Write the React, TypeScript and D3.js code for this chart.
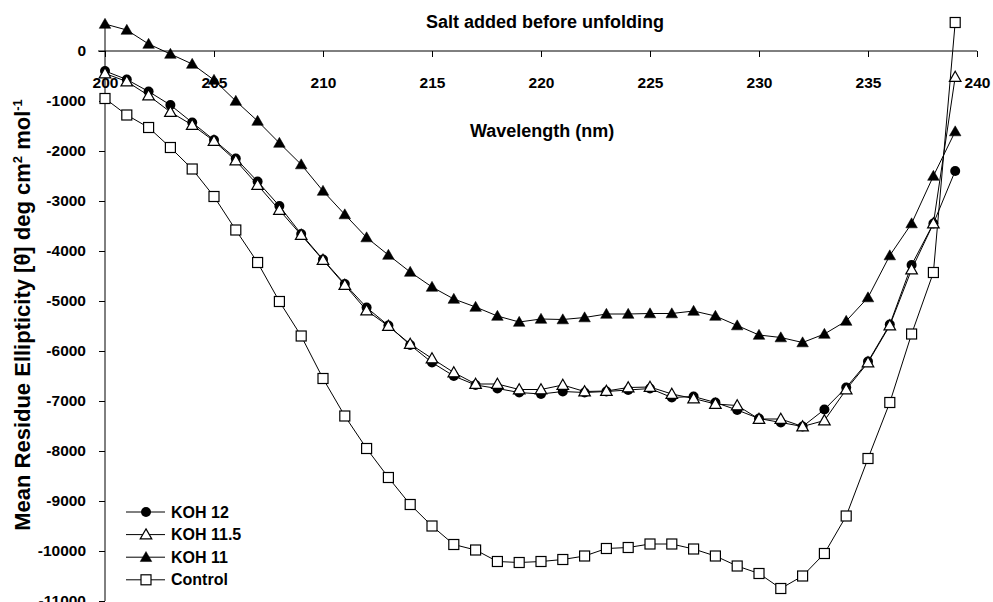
import React, { useEffect, useRef } from 'react';
import * as d3 from 'd3';

// wavelength in nm, one reading per nm
const wavelengths = [
  200, 201, 202, 203, 204, 205, 206, 207, 208, 209,
  210, 211, 212, 213, 214, 215, 216, 217, 218, 219,
  220, 221, 222, 223, 224, 225, 226, 227, 228, 229,
  230, 231, 232, 233, 234, 235, 236, 237, 238, 239,
];

const koh12 = [
  -400, -570, -810, -1080, -1430, -1780, -2150, -2610, -3100, -3660,
  -4170, -4660, -5130, -5490, -5880, -6230, -6500, -6680, -6750, -6830,
  -6860, -6810, -6830, -6810, -6780, -6750, -6930, -6910, -7030, -7180,
  -7350, -7430, -7510, -7170, -6730, -6210, -5470, -4280, -3450, -2400,
];

const koh115 = [
  -450, -610, -890, -1220, -1480, -1800, -2190, -2680, -3180, -3680,
  -4180, -4680, -5190, -5500, -5860, -6150, -6430, -6660, -6660, -6770,
  -6770, -6680, -6810, -6800, -6730, -6720, -6860, -6950, -7060, -7090,
  -7360, -7360, -7510, -7390, -6770, -6230, -5490, -4370, -3450, -520,
];

const koh11 = [
  540, 420, 140, -60, -260, -580, -1000, -1400, -1840, -2270,
  -2800, -3270, -3730, -4080, -4420, -4720, -4960, -5120, -5300, -5420,
  -5360, -5370, -5330, -5260, -5260, -5250, -5250, -5200, -5300, -5490,
  -5680, -5730, -5830, -5660, -5400, -4930, -4090, -3450, -2500, -1610,
];

const control = [
  -950, -1280, -1530, -1930, -2360, -2910, -3580, -4230, -5010, -5700,
  -6550, -7300, -7950, -8530, -9070, -9500, -9870, -9980, -10210, -10230,
  -10210, -10170, -10100, -9950, -9930, -9860, -9860, -9960, -10100, -10300,
  -10450, -10750, -10500, -10050, -9300, -8150, -7030, -5660, -4430, 570,
];

const xTicks = [200, 205, 210, 215, 220, 225, 230, 235, 240];
const yTicks = [0, -1000, -2000, -3000, -4000, -5000, -6000, -7000, -8000, -9000, -10000, -11000];

const seriesNames = ['KOH 12', 'KOH 11.5', 'KOH 11', 'Control'];
const seriesMarkers = ['circle', 'openTriangle', 'triangle', 'square'];

const W = 993;
const H = 602;
const FONT = '"Liberation Sans", Arial, sans-serif';

const App = () => {
  const ref = useRef<SVGSVGElement | null>(null);

  useEffect(() => {
    const svg = d3.select(ref.current);
    svg.selectAll('*').remove();

    const x = d3.scaleLinear().domain([200, 240]).range([105, 977]);
    const y = d3.scaleLinear().domain([0, -11000]).range([51, 601]);

    const tri = d3.symbol().type(d3.symbolTriangle).size(58)();

    const drawMarker = (g: any, kind: string, cx: number, cy: number) => {
      if (kind === 'circle') {
        g.append('circle').attr('cx', cx).attr('cy', cy).attr('r', 5).attr('fill', '#000');
      } else if (kind === 'square') {
        g.append('rect')
          .attr('x', cx - 5).attr('y', cy - 5).attr('width', 10).attr('height', 10)
          .attr('fill', '#fff').attr('stroke', '#000').attr('stroke-width', 1.2);
      } else {
        g.append('path')
          .attr('d', tri)
          .attr('transform', `translate(${cx},${cy + 1})`)
          .attr('fill', kind === 'triangle' ? '#000' : '#fff')
          .attr('stroke', '#000')
          .attr('stroke-width', kind === 'triangle' ? 0.5 : 1.2);
      }
    };

    // y axis (vertical line + ticks on left)
    const yAxis = svg.append('g')
      .attr('transform', 'translate(105,0)')
      .call(d3.axisLeft(y).tickValues(yTicks).tickSize(6).tickPadding(13).tickFormat((d: any) => String(d)));
    yAxis.select('.domain').remove();
    svg.append('line')
      .attr('x1', 105).attr('x2', 105).attr('y1', 20).attr('y2', 601)
      .attr('stroke', '#000').attr('stroke-width', 1);

    // x axis through zero, ticks hanging below
    const xAxis = svg.append('g')
      .attr('transform', `translate(0,${y(0)})`)
      .call(d3.axisBottom(x).tickValues(xTicks).tickSize(6).tickPadding(20).tickFormat((d: any) => String(d)));
    xAxis.select('.domain').remove();
    svg.append('line')
      .attr('x1', 98).attr('x2', 977).attr('y1', y(0)).attr('y2', y(0))
      .attr('stroke', '#000').attr('stroke-width', 1);

    svg.selectAll('.tick line').attr('stroke', '#000');
    svg.selectAll('.tick text')
      .attr('fill', '#000')
      .style('font-family', FONT)
      .style('font-size', '15.5px')
      .style('font-weight', 'bold');

    const allSeries = [koh12, koh115, koh11, control];
    const line = d3.line<number>()
      .x((_, i) => x(wavelengths[i]))
      .y((d) => y(d));

    // draw control first so the KOH curves sit on top
    const order = [3, 2, 0, 1];
    order.forEach((si) => {
      const vals = allSeries[si];
      const g = svg.append('g');
      g.append('path')
        .attr('d', line(vals))
        .attr('fill', 'none')
        .attr('stroke', '#000')
        .attr('stroke-width', 1);
      vals.forEach((v, i) => drawMarker(g, seriesMarkers[si], x(wavelengths[i]), y(v)));
    });

    // titles
    svg.append('text')
      .attr('x', 545).attr('y', 28)
      .attr('text-anchor', 'middle')
      .style('font-family', FONT).style('font-size', '18px').style('font-weight', 'bold')
      .text('Salt added before unfolding');

    svg.append('text')
      .attr('x', 470).attr('y', 137)
      .style('font-family', FONT).style('font-size', '18px').style('font-weight', 'bold')
      .text('Wavelength (nm)');

    const yt = svg.append('text')
      .attr('transform', 'translate(30,315) rotate(-90)')
      .attr('text-anchor', 'middle')
      .style('font-family', FONT).style('font-size', '22px').style('font-weight', 'bold');
    yt.append('tspan').text('Mean Residue Ellipticity [θ] deg cm');
    yt.append('tspan').attr('dy', -8).style('font-size', '13px').text('2');
    yt.append('tspan').attr('dy', 8).text(' mol');
    yt.append('tspan').attr('dy', -8).style('font-size', '13px').text('-1');

    // legend
    const legend = svg.append('g');
    seriesNames.forEach((name, i) => {
      const ly = 512 + i * 22.6;
      legend.append('line')
        .attr('x1', 126).attr('x2', 165).attr('y1', ly).attr('y2', ly)
        .attr('stroke', '#000').attr('stroke-width', 1);
      drawMarker(legend, seriesMarkers[i], 146, ly);
      legend.append('text')
        .attr('x', 171).attr('y', ly + 5.5)
        .style('font-family', FONT).style('font-size', '16px').style('font-weight', 'bold')
        .text(name);
    });
  }, []);

  return (
    <svg
      ref={ref}
      width={W}
      height={H}
      style={{ position: 'absolute', left: 0, top: 0, background: '#fff' }}
    />
  );
};

export default App;
